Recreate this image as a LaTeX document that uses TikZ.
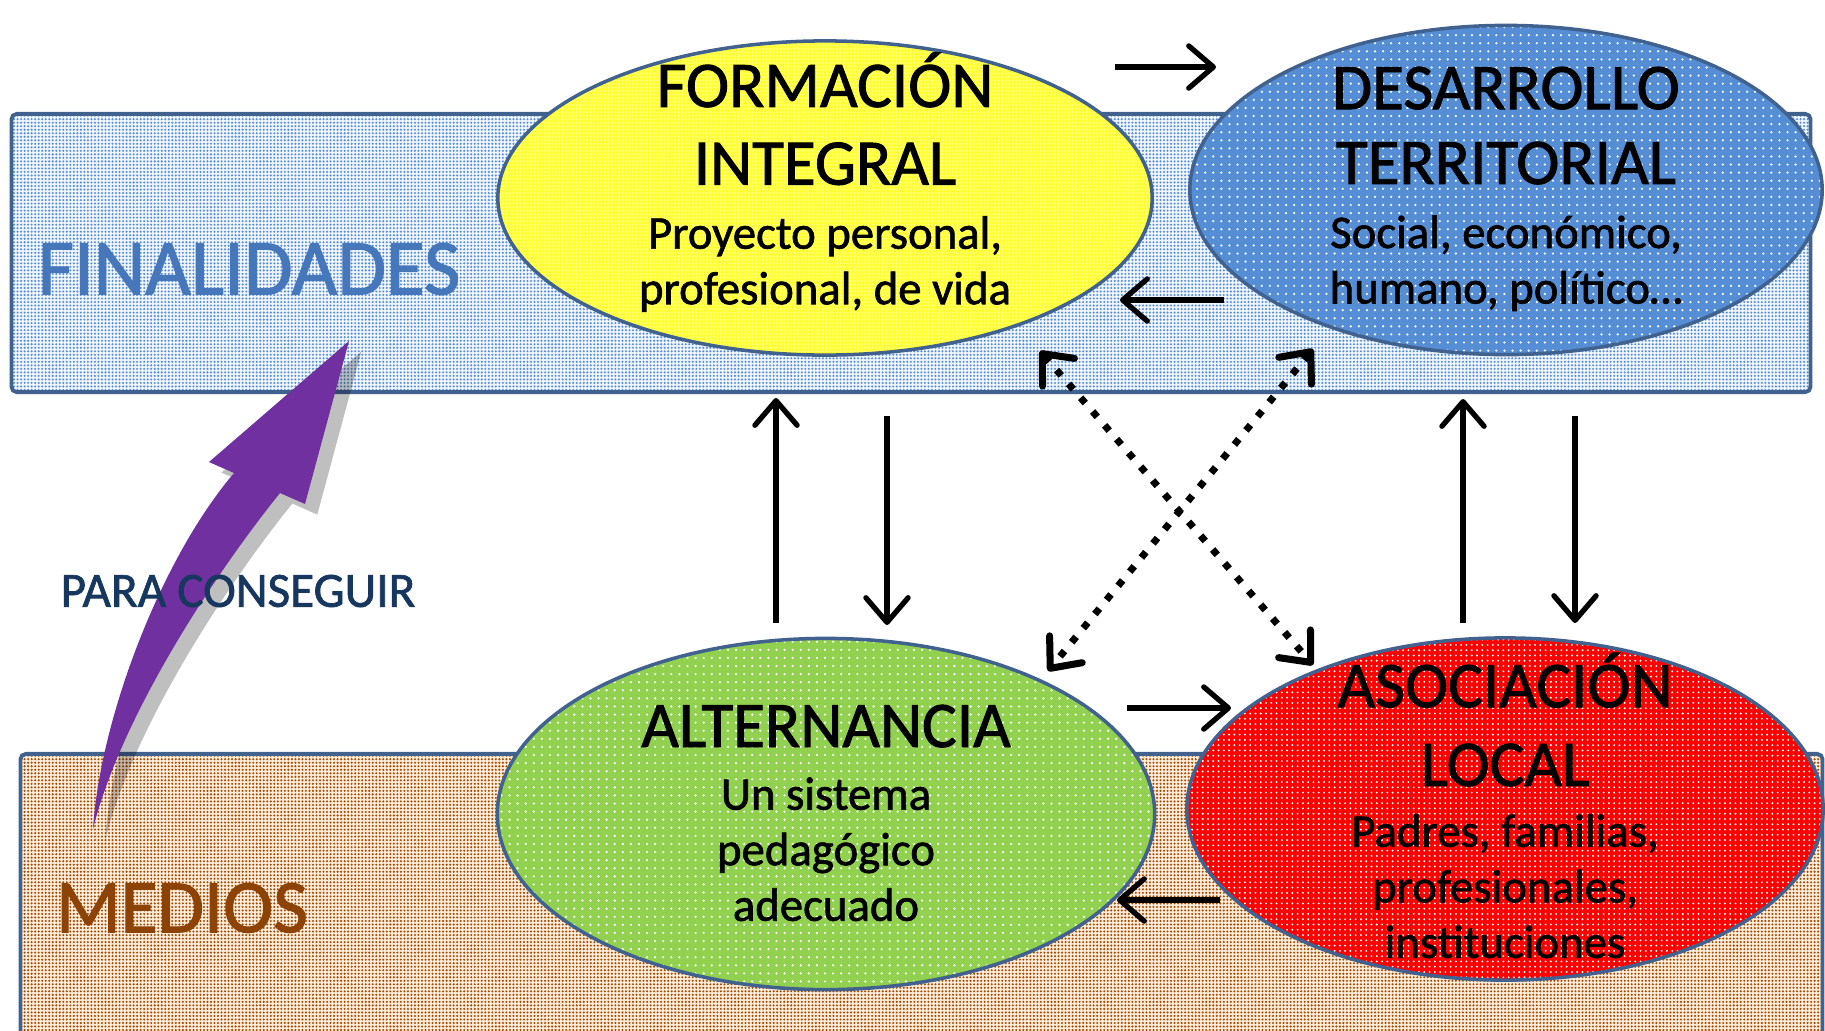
\documentclass[tikz,border=0pt]{standalone}
\usepackage{fontspec}
\setmainfont{Carlito}
\newfontfamily\heavy[FakeBold=1.4]{Carlito}
\usetikzlibrary{shapes.geometric, arrows.meta, patterns, positioning}

\definecolor{edge}{HTML}{41618F}
\definecolor{finblue}{HTML}{4677BA}
\definecolor{medbrown}{HTML}{8E4306}
\definecolor{navy}{HTML}{17375E}
\definecolor{purp}{HTML}{7030A0}
\definecolor{yell}{HTML}{FFFF33}
\definecolor{skyb}{HTML}{558ED5}
\definecolor{leaf}{HTML}{92D050}
\definecolor{rojo}{HTML}{FF0000}

% dot textures
\pgfdeclarepatternformonly{finedots}{\pgfqpoint{-.5pt}{-.5pt}}{\pgfqpoint{.5pt}{.5pt}}{\pgfqpoint{1pt}{1pt}}{\pgfpathcircle{\pgfpointorigin}{.33pt}\pgfusepath{fill}}
\pgfdeclarepatternformonly{meddots}{\pgfqpoint{-.75pt}{-.75pt}}{\pgfqpoint{.75pt}{.75pt}}{\pgfqpoint{1.5pt}{1.5pt}}{\pgfpathcircle{\pgfpointorigin}{.3pt}\pgfusepath{fill}}
\pgfdeclarepatternformonly{sparsedots}{\pgfqpoint{-1pt}{-1pt}}{\pgfqpoint{1pt}{1pt}}{\pgfqpoint{2.3pt}{2.3pt}}{\pgfpathcircle{\pgfpointorigin}{.35pt}\pgfusepath{fill}}

\newcommand{\titlef}{\fontsize{18.5}{22}\selectfont}
\newcommand{\subf}{\heavy\fontsize{13.3}{15.8}\selectfont}

\begin{document}
\begin{tikzpicture}[
        x=0.01cm, y=-0.01cm,
        band/.style={rectangle, draw=edge, line width=1.1pt, rounded corners=1.5pt, inner sep=0pt},
        bubble/.style={ellipse, draw=edge, line width=1pt, inner sep=0pt},
        txt/.style={align=center, font=\subf, inner sep=0pt},
        tag/.style={font=\heavy\fontsize{21.5}{25}\selectfont},
        arrow/.style={line width=1.5pt, -{Straight Barb[length=7pt,width=12pt,round]}},
        dotarrow/.style={line width=2pt, dash pattern=on 2pt off 3.2pt,
            {Straight Barb[length=7pt,width=12pt,round]}-{Straight Barb[length=7pt,width=12pt,round]}}
    ]
        \useasboundingbox (0,0) rectangle (1825,1030);

        % bands
        \node[band, minimum width=17.98cm, minimum height=2.78cm,
            preaction={fill=skyb!8}, pattern=finedots, pattern color=skyb] (finbox) at (911,253) {};
        \node[band, minimum width=18.01cm, minimum height=3.0cm,
            preaction={fill=orange!14}, pattern=finedots, pattern color=medbrown!85!orange] (medbox) at (921.5,904) {};

        \node[tag, text=finblue, font=\heavy\fontsize{22.5}{26}\selectfont] (finalidades) at (249,269) {FINALIDADES};
        \node[tag, text=medbrown] (medios) at (182,908) {MEDIOS};

        % purple arrow
        \fill[black, opacity=.25, xshift=3.5pt, yshift=-3pt] (93,829) .. controls (100,720) and (160,560) .. (234,473)
            -- (209,462) -- (349,341) -- (305,504) -- (280,493) .. controls (210,580) and (120,720) .. cycle;
        \fill[purp] (93,829) .. controls (100,720) and (160,560) .. (234,473)
            -- (209,462) -- (349,341) -- (305,504) -- (280,493) .. controls (210,580) and (120,720) .. cycle;
        \node[font=\heavy\fontsize{14}{17}\selectfont, text=navy] (conseguir) at (238,591) {PARA CONSEGUIR};

        % ellipses
        \node[bubble, minimum width=6.54cm, minimum height=3.14cm,
            preaction={fill=yell}, pattern=finedots, pattern color=white!40!yell] (formacion) at (825,198) {};
        \node[bubble, minimum width=6.32cm, minimum height=3.29cm,
            preaction={fill=skyb}, pattern=sparsedots, pattern color=white] (desarrollo) at (1506,190) {};
        \node[bubble, minimum width=6.57cm, minimum height=3.51cm,
            preaction={fill=leaf}, pattern=sparsedots, pattern color=white] (alternancia) at (826,814) {};
        \node[bubble, minimum width=6.36cm, minimum height=3.42cm,
            preaction={fill=rojo}, pattern=meddots, pattern color=white] (asociacion) at (1505,809) {};

        \node[txt] (formacion-t) at ([yshift=4.5pt]formacion.center)
            {{\titlef FORMACIÓN}\\[6.3pt]{\titlef INTEGRAL}\\[2.4pt]Proyecto personal,\\profesional, de vida};
        \node[txt] (desarrollo-t) at ([yshift=0.3pt]desarrollo.center)
            {{\titlef DESARROLLO}\\[5.5pt]{\titlef TERRITORIAL}\\[2.4pt]Social, económico,\\humano, político\dots};
        \node[txt] (alternancia-t) at ([yshift=0.3pt]alternancia.center)
            {{\titlef ALTERNANCIA}\\[2pt]Un sistema\\pedagógico\\adecuado};
        \node[txt] (asociacion-t) at ([yshift=1pt]asociacion.center)
            {{\titlef ASOCIACIÓN}\\[6.6pt]{\titlef LOCAL}\\[1.5pt]Padres, familias,\\profesionales,\\instituciones};

        % connector ends
        \coordinate (fd-a) at (1115,67);   \coordinate (fd-b) at (1216,67);
        \coordinate (df-a) at (1224,300);  \coordinate (df-b) at (1120,300);
        \coordinate (aa-a) at (1127,708);  \coordinate (aa-b) at (1231,708);
        \coordinate (la-a) at (1220,900);  \coordinate (la-b) at (1117,900);
        \coordinate (af-a) at (776,623);   \coordinate (af-b) at (776,398);
        \coordinate (fa-a) at (887,416);   \coordinate (fa-b) at (887,625);
        \coordinate (ld-a) at (1463,623);  \coordinate (ld-b) at (1463,399);
        \coordinate (dl-a) at (1575,416);  \coordinate (dl-b) at (1575,623);
        \coordinate (x1-a) at (1040,351);  \coordinate (x1-b) at (1313,665);
        \coordinate (x2-a) at (1313,349);  \coordinate (x2-b) at (1048,671);

        \draw[arrow] (fd-a) -- (fd-b);
        \draw[arrow] (df-a) -- (df-b);
        \draw[arrow] (aa-a) -- (aa-b);
        \draw[arrow] (la-a) -- (la-b);
        \draw[arrow] (af-a) -- (af-b);
        \draw[arrow] (fa-a) -- (fa-b);
        \draw[arrow] (ld-a) -- (ld-b);
        \draw[arrow] (dl-a) -- (dl-b);
        \draw[dotarrow] (x1-a) -- (x1-b);
        \draw[dotarrow] (x2-a) -- (x2-b);
    \end{tikzpicture}
\end{document}
